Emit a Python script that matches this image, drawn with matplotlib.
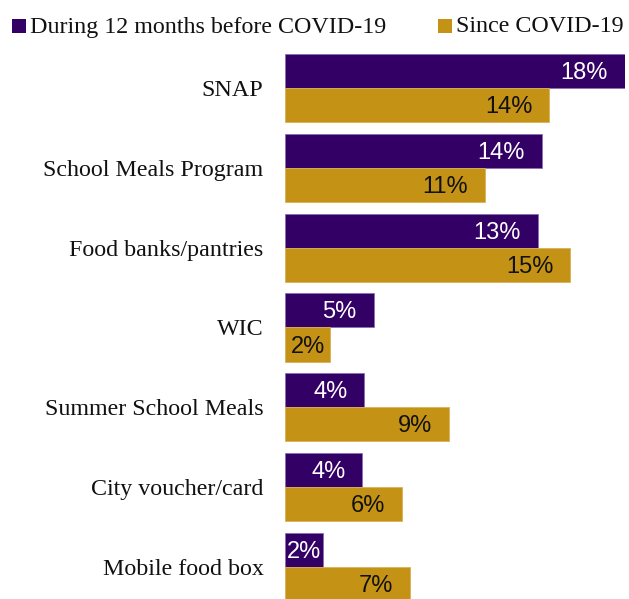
import matplotlib
matplotlib.use("Agg")
import matplotlib.pyplot as plt
from matplotlib.patches import Rectangle
from matplotlib.transforms import ScaledTranslation

categories = ["SNAP", "School Meals Program", "Food banks/pantries", "WIC",
              "Summer School Meals", "City voucher/card", "Mobile food box"]
before = [18.0, 13.6, 13.4, 4.7, 4.2, 4.1, 2.0]
since = [14.0, 10.6, 15.1, 2.4, 8.7, 6.2, 6.6]
series_names = ["During 12 months before COVID-19", "Since COVID-19"]

PURPLE = "#330066"
GOLD = "#C49214"

W, H = 629, 599
fig = plt.figure(figsize=(W / 100, H / 100), dpi=100)

left_px, right_px = 285, 625
top_px, bot_px = 48, 607
ax = fig.add_axes([left_px / W, 1 - bot_px / H, (right_px - left_px) / W, (bot_px - top_px) / H])

h = 0.426
ys = list(range(len(categories)))
ax.barh([y - h / 2 for y in ys], before, height=h, color=PURPLE, edgecolor="#8a6fb0", linewidth=0.6)
ax.barh([y + h / 2 for y in ys], since, height=h, color=GOLD, edgecolor="#d9b25a", linewidth=0.6)
ax.set_xlim(0, 18)
ax.set_ylim(6.5, -0.5)
ax.set_yticks(ys)
ax.set_yticklabels(categories, fontsize=17.3, family="Liberation Serif", color="#111111")
ax.tick_params(axis="y", length=0, pad=15.5)
ax.set_xticks([])
for s in ax.spines.values():
    s.set_visible(False)

fig.canvas.draw()
renderer = fig.canvas.get_renderer()
pxper = (right_px - left_px) / 18.0


def label(vals, offsets, color):
    for v, y in zip(vals, offsets):
        txt = f"{round(v)}%"
        t = ax.text(0, y, txt, fontsize=17, family="Liberation Sans", color=color, va="center", ha="center")
        tw = t.get_window_extent(renderer).width
        bar_px = v * pxper
        if bar_px >= tw + 17 + 4:
            t.set_position((v, y))
            t.set_ha("right")
            t.set_transform(ax.transData + ScaledTranslation(-17 / 100, -2 / 100, fig.dpi_scale_trans))
        else:
            t.set_position((v / 2, y))
            t.set_transform(ax.transData + ScaledTranslation(0, -2 / 100, fig.dpi_scale_trans))


label(before, [y - h / 2 for y in ys], "white")
label(since, [y + h / 2 for y in ys], "#111111")


def legend_item(x_px, color, text):
    fig.add_artist(Rectangle((x_px / W, 1 - 33 / H), 14 / W, 14 / H, transform=fig.transFigure,
                             facecolor=color, edgecolor="none"))
    fig.text((x_px + 18) / W, 1 - 27 / H, text, fontsize=17.3, family="Liberation Serif",
             va="center", ha="left", color="#111111")


legend_item(12, PURPLE, series_names[0])
legend_item(438, GOLD, series_names[1])

fig.savefig("out.png", dpi=100)
